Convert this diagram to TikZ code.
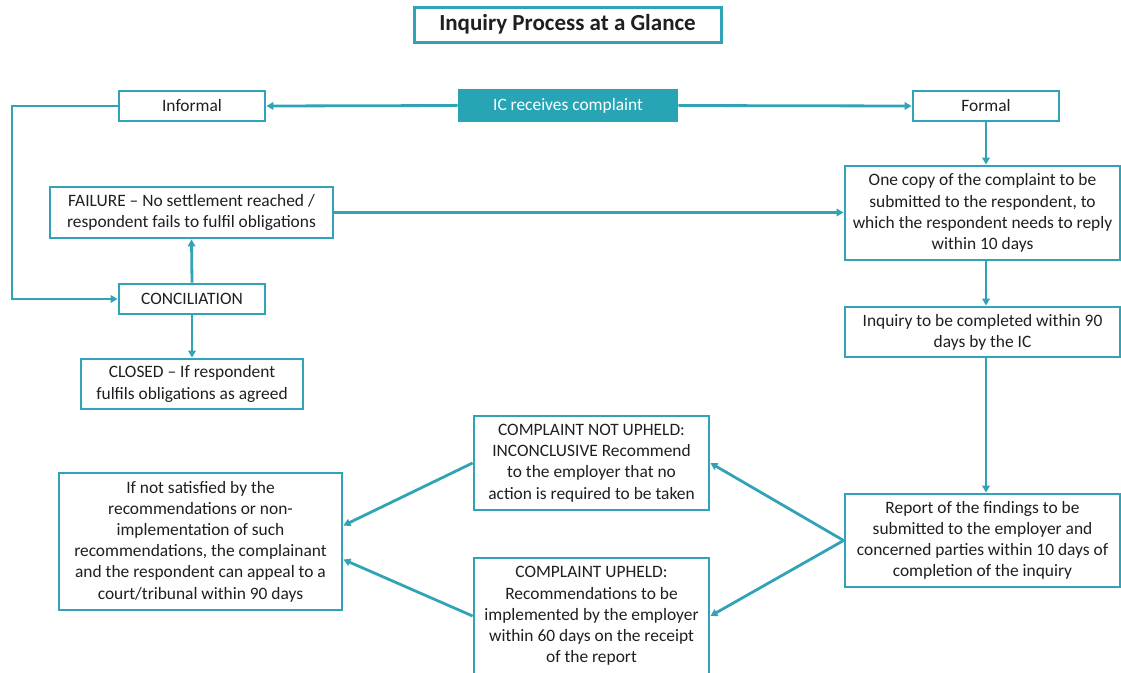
\documentclass[tikz,border=0pt]{standalone}
\usepackage{fontspec}
\setmainfont{Carlito}
\usetikzlibrary{arrows.meta,calc}
\definecolor{teal}{RGB}{49,163,183}
\definecolor{tealfill}{RGB}{39,165,181}
\tikzset{
  box/.style={draw=teal, line width=2.8pt, fill=white, align=center, inner sep=0pt,
    font=\fontsize{17.4}{21.2}\selectfont, text=black!88},
  conn/.style={draw=teal, line width=2.8pt, -{Triangle[length=7pt,width=7.5pt]}},
  plain/.style={draw=teal, line width=2.8pt}
}
\begin{document}
\begin{tikzpicture}[x=1pt,y=-1pt]
\useasboundingbox (0,0) rectangle (1121,672);
\begin{scope}
\clip (0,0) rectangle (1121,672);
\node[box, line width=3pt, minimum width=307pt, minimum height=35pt, font=\bfseries\fontsize{23}{26}\selectfont] (title) at (567.5,24.5) {Inquiry Process at a Glance};
\node[box, minimum width=146pt, minimum height=30pt] (informal) at (192,106) {Informal};
\node[box, fill=tealfill, draw=tealfill, text=white, minimum width=218pt, minimum height=31pt] (ic) at (568,105.5) {IC receives complaint};
\node[box, minimum width=146pt, minimum height=30pt] (formal) at (986,106) {Formal};
\node[box, minimum width=283pt, minimum height=51pt] (failure) at (191.5,212.5) {FAILURE -- No settlement reached /\\respondent fails to fulfil obligations};
\node[box, minimum width=146pt, minimum height=30pt] (concil) at (192,299) {CONCILIATION};
\node[box, minimum width=222pt, minimum height=50pt] (closed) at (192,384) {CLOSED -- If respondent\\fulfils obligations as agreed};
\node[box, minimum width=275pt, minimum height=94pt] (copy) at (982.5,213) {One copy of the complaint to be\\submitted to the respondent, to\\which the respondent needs to reply\\within 10 days};
\node[box, minimum width=275pt, minimum height=50pt] (inquiry) at (982.5,332) {Inquiry to be completed within 90\\days by the IC};
\node[box, minimum width=275pt, minimum height=93pt] (report) at (982.5,540.5) {Report of the findings to be\\submitted to the employer and\\concerned parties within 10 days of\\completion of the inquiry};
\node[box, minimum width=235pt, minimum height=94pt] (notup) at (591.5,463) {COMPLAINT NOT UPHELD:\\INCONCLUSIVE Recommend\\to the employer that no\\action is required to be taken};
\node[box, minimum width=235pt, minimum height=116pt] (upheld) at (591.5,616) {COMPLAINT UPHELD:\\Recommendations to be\\implemented by the employer\\within 60 days on the receipt\\of the report};
\node[box, minimum width=283pt, minimum height=137pt] (appeal) at (200.5,541.5) {If not satisfied by the\\recommendations or non-\\implementation of such\\recommendations, the complainant\\and the respondent can appeal to a\\court/tribunal within 90 days};

\coordinate (lft) at (12,106);
\draw[conn] (ic.west) -- (informal.east);
\draw[conn] (ic.east) -- (formal.west);
\draw[conn] (informal.west) -- (lft) |- (concil.west);
\draw[conn] (concil.north) -- (failure.south);
\draw[conn] (concil.south) -- (closed.north);
\draw[conn] (failure.east) -- (failure.east -| copy.west);
\draw[conn] (formal.south) -- (formal.south |- copy.north);
\draw[conn] (copy.south -| formal.south) -- (inquiry.north -| formal.south);
\draw[conn] (inquiry.south -| formal.south) -- (report.north -| formal.south);
\draw[conn] (report.west) -- (notup.east);
\draw[conn] (report.west) -- (upheld.east);
\draw[conn] (notup.west) -- ($(appeal.east)+(0,-16)$);
\draw[conn] (upheld.west) -- ($(appeal.east)+(0,18)$);
\end{scope}
\end{tikzpicture}
\end{document}
